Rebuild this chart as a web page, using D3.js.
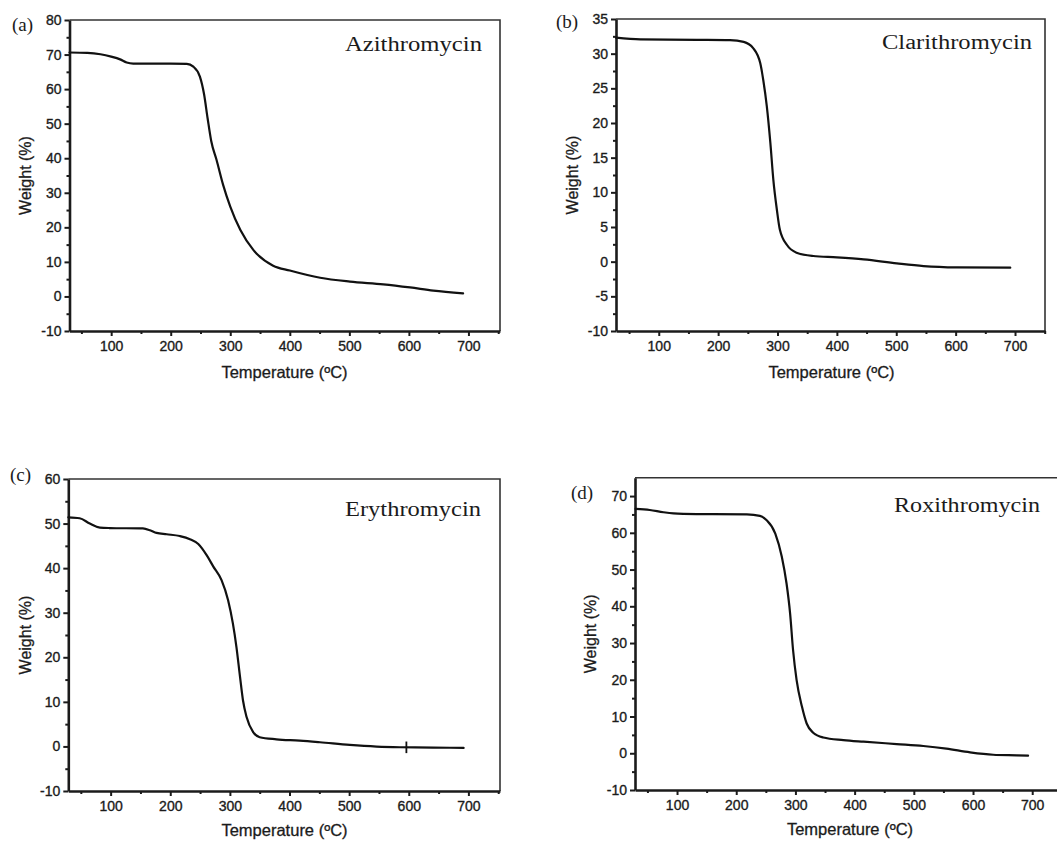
<!DOCTYPE html>
<html><head><meta charset="utf-8">
<script src="https://cdn.jsdelivr.net/npm/d3@7"></script>
<style>body{margin:0;background:#fff}svg{display:block}</style>
</head><body><svg id="c" width="1057" height="841"></svg>
<script>
// ---------- data ----------
const xTicks = [100, 200, 300, 400, 500, 600, 700];
const xMinorTicks = [50, 150, 250, 350, 450, 550, 650, 750];

const yTicksA = [-10, 0, 10, 20, 30, 40, 50, 60, 70, 80];
const yTicksB = [-10, -5, 0, 5, 10, 15, 20, 25, 30, 35];
const yTicksC = [-10, 0, 10, 20, 30, 40, 50, 60];
const yTicksD = [-10, 0, 10, 20, 30, 40, 50, 60, 70];

const tempA   = [30, 60, 82, 100, 115, 126, 137, 160, 200, 227, 238, 249, 256, 262, 268, 277, 288, 300, 317, 339, 372, 400, 451, 501, 557, 602, 641, 691];
const weightA = [70.6, 70.5, 70.1, 69.4, 68.6, 67.7, 67.4, 67.4, 67.4, 67.3, 66.5, 63.6, 58.5, 51.5, 45.0, 39.5, 32.3, 26.0, 19.2, 13.4, 8.9, 7.5, 5.4, 4.3, 3.5, 2.6, 1.7, 0.9];

const tempB   = [28, 69, 164, 220, 243, 259, 271, 276, 282, 288, 293, 299, 304, 316, 332, 360, 400, 445, 501, 546, 602, 692];
const weightB = [32.3, 32.07, 32.0, 31.95, 31.7, 30.8, 28.6, 26.2, 22.4, 17.1, 11.8, 7.45, 4.6, 2.4, 1.3, 0.82, 0.63, 0.34, -0.24, -0.63, -0.82, -0.87];

const tempC   = [29, 48, 65, 82, 98, 154, 166, 177, 194, 216, 233, 247, 261, 272, 286, 297, 305, 311, 317, 322, 328, 339, 350, 378, 417, 451, 501, 546, 585, 641, 692];
const weightC = [51.4, 51.2, 50.0, 49.1, 49.0, 48.9, 48.5, 47.9, 47.6, 47.2, 46.5, 45.4, 42.9, 40.4, 37.3, 32.8, 27.6, 22.3, 15.6, 10.3, 6.6, 3.2, 2.07, 1.6, 1.3, 0.94, 0.34, -0.03, -0.18, -0.25, -0.33];
const glitchC = [{ t: 596, w: -0.2 }];

const tempD   = [30, 54, 77, 94, 133, 218, 240, 251, 266, 277, 285, 291, 296, 302, 311, 319, 330, 347, 381, 415, 471, 516, 555, 595, 634, 674, 693];
const weightD = [66.5, 66.2, 65.6, 65.3, 65.1, 65.0, 64.6, 63.5, 59.8, 53.5, 46.2, 38.1, 28.1, 19.9, 12.7, 8.1, 5.6, 4.3, 3.6, 3.15, 2.5, 1.97, 1.25, 0.25, -0.4, -0.57, -0.66];

const panelLabels = ["(a)", "(b)", "(c)", "(d)"];
const drugNames = ["Azithromycin", "Clarithromycin", "Erythromycin", "Roxithromycin"];
const xTitle = "Temperature (\u00BAC)";
const yTitle = "Weight (%)";

// ---------- layout ----------
const panels = [
  { T: tempA, W: weightA, yTicks: yTicksA, xDom: [30, 753], yDom: [-10, 80],
    box: { l: 69.5, t: 20, r: 500, b: 331 }, ytX: 25, xtX: 284.5, xtDy: 47,
    lab: { x: 12, y: 31 }, name: { x: 482, y: 51, w: 137 } },
  { T: tempB, W: weightB, yTicks: yTicksB, xDom: [28, 750.5], yDom: [-10, 35],
    box: { l: 616, t: 19, r: 1045, b: 331 }, ytX: 572, xtX: 831.5, xtDy: 47,
    lab: { x: 556, y: 28 }, name: { x: 1032, y: 49, w: 150 } },
  { T: tempC, W: weightC, yTicks: yTicksC, xDom: [29, 753], yDom: [-10, 60],
    box: { l: 68.3, t: 479, r: 500, b: 791 }, ytX: 25, xtX: 284.5, xtDy: 45, glitch: glitchC,
    lab: { x: 10, y: 481 }, name: { x: 481, y: 516, w: 136 } },
  { T: tempD, W: weightD, yTicks: yTicksD, xDom: [29, 752], yDom: [-10, 75],
    box: { l: 635, t: 477.7, r: 1063, b: 790 }, ytX: 590, xtX: 850, xtDy: 45,
    lab: { x: 571, y: 499 }, name: { x: 1040, y: 512, w: 146 } }
];

const svg = d3.select("#c");
const sans = "'Liberation Sans', Arial, sans-serif";
const serif = "'Liberation Serif', 'Times New Roman', serif";
const ink = "#1b1b1b";

panels.forEach((p, i) => {
  const { l, t, r, b } = p.box;
  const x = d3.scaleLinear().domain(p.xDom).range([l, r]);
  const y = d3.scaleLinear().domain(p.yDom).range([b, t]);
  const g = svg.append("g");

  // frame (top + right)
  g.append("path")
    .attr("d", `M${l},${t}H${r}V${b}`)
    .attr("fill", "none").attr("stroke", "#333").attr("stroke-width", 1.6);

  // minor ticks
  const yStep = p.yTicks[1] - p.yTicks[0];
  const yMinor = p.yTicks.slice(0, -1).map(v => v + yStep / 2).filter(v => v < p.yDom[1]);
  g.append("g").attr("transform", `translate(${l},0)`)
    .call(d3.axisLeft(y).tickValues(yMinor).tickSize(3).tickFormat(""))
    .call(s => s.select(".domain").remove())
    .selectAll("line").attr("stroke", ink).attr("stroke-width", 2);
  g.append("g").attr("transform", `translate(0,${b})`)
    .call(d3.axisBottom(x).tickValues(xMinorTicks.filter(v => v < p.xDom[1])).tickSize(3).tickFormat(""))
    .call(s => s.select(".domain").remove())
    .selectAll("line").attr("stroke", ink).attr("stroke-width", 2);

  // major axes
  const ya = g.append("g").attr("transform", `translate(${l},0)`)
    .call(d3.axisLeft(y).tickValues(p.yTicks).tickSize(5).tickPadding(3).tickSizeOuter(0)
      .tickFormat(d => String(d)));
  const xa = g.append("g").attr("transform", `translate(0,${b})`)
    .call(d3.axisBottom(x).tickValues(xTicks).tickSize(5).tickPadding(5).tickSizeOuter(0)
      .tickFormat(d => String(d)));
  [ya, xa].forEach(a => {
    a.select(".domain").attr("stroke", ink).attr("stroke-width", 2.6);
    a.selectAll(".tick line").attr("stroke", ink).attr("stroke-width", 2);
    a.selectAll("text").attr("fill", ink).attr("font-family", sans)
      .attr("font-size", 14).attr("stroke", ink).attr("stroke-width", 0.35);
  });

  // curve
  const line = d3.line().x(d => x(d[0])).y(d => y(d[1])).curve(d3.curveMonotoneX);
  g.append("path").datum(p.T.map((tv, k) => [tv, p.W[k]]))
    .attr("d", line).attr("fill", "none").attr("stroke", "#111")
    .attr("stroke-width", 2.2).attr("stroke-linejoin", "round").attr("stroke-linecap", "round");

  if (p.glitch) {
    g.selectAll(".gl").data(p.glitch).enter().append("line")
      .attr("x1", d => x(d.t)).attr("x2", d => x(d.t))
      .attr("y1", d => y(d.w + 1.3)).attr("y2", d => y(d.w - 1.3))
      .attr("stroke", "#111").attr("stroke-width", 1.8);
  }

  // titles
  g.append("text").attr("x", p.xtX)
    .attr("y", b + p.xtDy).attr("text-anchor", "middle")
    .attr("font-family", sans).attr("font-size", 16.5).attr("fill", ink)
    .attr("stroke", ink).attr("stroke-width", 0.3).text(xTitle);
  g.append("text").attr("transform", `translate(${p.ytX + 5.5},${(t + b) / 2}) rotate(-90)`)
    .attr("text-anchor", "middle").attr("font-family", sans).attr("font-size", 16)
    .attr("fill", ink).attr("stroke", ink).attr("stroke-width", 0.3).text(yTitle);

  g.append("text").attr("x", p.lab.x).attr("y", p.lab.y)
    .attr("font-family", serif).attr("font-size", 19).attr("fill", ink).text(panelLabels[i]);
  g.append("text").attr("x", p.name.x - p.name.w).attr("y", p.name.y)
    .attr("font-family", serif).attr("font-size", 20).attr("fill", ink)
    .attr("textLength", p.name.w).attr("lengthAdjust", "spacingAndGlyphs").text(drugNames[i]);
});
</script>
</body></html>
